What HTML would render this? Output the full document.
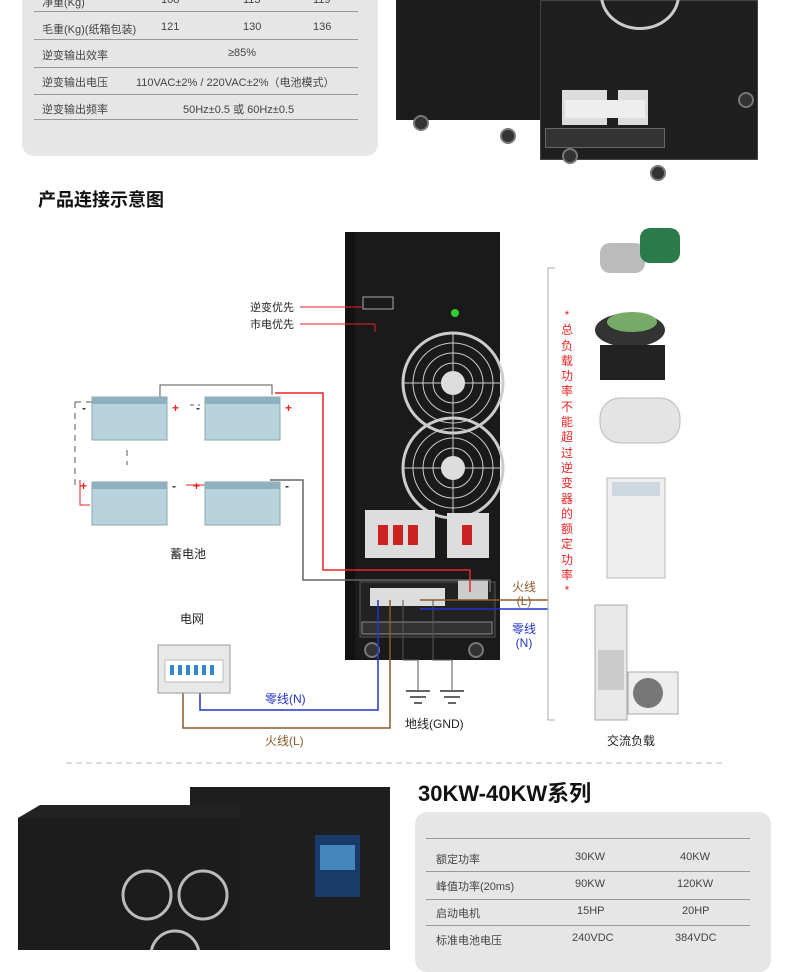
<!DOCTYPE html>
<html><head><meta charset="utf-8"><style>
*{margin:0;padding:0;box-sizing:border-box}
body{width:790px;height:950px;position:relative;background:#fff;overflow:hidden;font-family:"Liberation Sans","Noto Sans CJK SC",sans-serif;color:#333}
.a{position:absolute}
.panel{background:#e6e6e6;border-radius:12px}
.t{font-size:11px;color:#444;white-space:nowrap}
.hl{position:absolute;height:1px;background:#999}
</style></head><body>
<!-- top spec panel -->
<div class="a panel" style="left:22px;top:-20px;width:356px;height:176px"></div>
<div class="hl" style="left:34px;top:11px;width:324px"></div>
<div class="hl" style="left:34px;top:39px;width:324px"></div>
<div class="hl" style="left:34px;top:67px;width:324px"></div>
<div class="hl" style="left:34px;top:94px;width:324px"></div>
<div class="hl" style="left:34px;top:119px;width:324px"></div>
<div class="a t" style="left:42px;top:-6px">净重(Kg)</div><div class="a t" style="left:161px;top:-6px">108</div><div class="a t" style="left:243px;top:-6px">113</div><div class="a t" style="left:313px;top:-6px">119</div>
<div class="a t" style="left:42px;top:21px">毛重(Kg)(纸箱包装)</div><div class="a t" style="left:161px;top:21px">121</div><div class="a t" style="left:243px;top:21px">130</div><div class="a t" style="left:313px;top:21px">136</div>
<div class="a t" style="left:42px;top:47px">逆变输出效率</div><div class="a t" style="left:228px;top:47px">≥85%</div>
<div class="a t" style="left:42px;top:74px">逆变输出电压</div><div class="a t" style="left:136px;top:74px">110VAC±2% / 220VAC±2%（电池模式）</div>
<div class="a t" style="left:42px;top:101px">逆变输出频率</div><div class="a t" style="left:183px;top:101px">50Hz±0.5 或 60Hz±0.5</div>

<!-- top right cabinets -->
<div class="a" style="left:396px;top:0;width:160px;height:120px;background:#1c1c1c"></div>
<div class="a" style="left:540px;top:0;width:218px;height:160px;background:#1f1f1f;border:1px solid #444"></div>
<div class="a" style="left:600px;top:-40px;width:80px;height:70px;border-radius:50%;border:3px solid #ccc"></div>
<div class="a" style="left:562px;top:90px;width:45px;height:35px;background:#ddd"></div>
<div class="a" style="left:618px;top:90px;width:30px;height:35px;background:#ddd"></div>
<div class="a" style="left:565px;top:100px;width:80px;height:18px;background:#eee"></div>
<div class="a" style="left:545px;top:128px;width:120px;height:20px;background:#333;border:1px solid #666"></div>
<div class="a" style="left:413px;top:115px;width:16px;height:16px;border-radius:50%;background:#333;border:2px solid #777"></div>
<div class="a" style="left:500px;top:128px;width:16px;height:16px;border-radius:50%;background:#333;border:2px solid #777"></div>
<div class="a" style="left:562px;top:148px;width:16px;height:16px;border-radius:50%;background:#333;border:2px solid #777"></div>
<div class="a" style="left:650px;top:165px;width:16px;height:16px;border-radius:50%;background:#333;border:2px solid #777"></div>
<div class="a" style="left:738px;top:92px;width:16px;height:16px;border-radius:50%;background:#333;border:2px solid #777"></div>

<div class="a" style="left:38px;top:186px;font-size:18px;font-weight:bold;color:#111">产品连接示意图</div>

<svg class="a" style="left:0;top:0" width="790" height="950">
 <!-- main cabinet -->
 <rect x="345" y="232" width="155" height="428" fill="#1a1a1a"/>
 <rect x="345" y="232" width="10" height="428" fill="#111"/>
 <rect x="363" y="297" width="30" height="12" fill="none" stroke="#aaa" stroke-width="1"/>
 <circle cx="455" cy="313" r="4" fill="#3c3"/>
 <g fill="none" stroke="#ccc">
  <circle cx="453" cy="383" r="50" stroke-width="3"/><circle cx="453" cy="383" r="40"/><circle cx="453" cy="383" r="30"/><circle cx="453" cy="383" r="20"/>
  <circle cx="453" cy="468" r="50" stroke-width="3"/><circle cx="453" cy="468" r="40"/><circle cx="453" cy="468" r="30"/><circle cx="453" cy="468" r="20"/>
  <line x1="403" y1="383" x2="503" y2="383"/><line x1="453" y1="333" x2="453" y2="433"/>
  <line x1="403" y1="468" x2="503" y2="468"/><line x1="453" y1="418" x2="453" y2="518"/>
 </g>
 <circle cx="453" cy="383" r="12" fill="#ddd"/><circle cx="453" cy="468" r="12" fill="#ddd"/>
 <rect x="365" y="510" width="70" height="48" fill="#ddd"/><rect x="447" y="513" width="42" height="45" fill="#ddd"/>
 <rect x="378" y="525" width="10" height="20" fill="#c22"/><rect x="393" y="525" width="10" height="20" fill="#c22"/><rect x="408" y="525" width="10" height="20" fill="#c22"/>
 <rect x="462" y="525" width="10" height="20" fill="#c22"/>
 <rect x="360" y="582" width="135" height="55" fill="#222" stroke="#555"/>
 <rect x="370" y="588" width="75" height="18" fill="#ddd"/><rect x="458" y="580" width="30" height="20" fill="#ccc"/>
 <rect x="362" y="622" width="130" height="12" fill="#333" stroke="#888"/>
 <circle cx="372" cy="650" r="7" fill="#333" stroke="#777" stroke-width="2"/><circle cx="476" cy="650" r="7" fill="#333" stroke="#777" stroke-width="2"/>
 <!-- labels lines -->
 <line x1="300" y1="307" x2="362" y2="307" stroke="#e22"/><line x1="300" y1="324" x2="375" y2="324" stroke="#e22"/><line x1="375" y1="324" x2="375" y2="332" stroke="#e22"/>
 <!-- battery wiring -->
 <g stroke="#555" stroke-dasharray="6,5" fill="none">
  <line x1="75" y1="402" x2="75" y2="485"/><line x1="75" y1="402" x2="95" y2="402"/>
  <polyline points="127,450 127,465"/>
 </g>
 <polyline points="160,403 160,385 272,385 272,395" stroke="#555" fill="none"/>
 <polyline points="80,480 80,505 90,505" stroke="#e22" fill="none"/>
 <polyline points="275,393 323,393 323,570 470,570 470,592" stroke="#e22" fill="none" stroke-width="1.5"/>
 <polyline points="270,480 303,480 303,580 490,580 490,592" stroke="#666" fill="none" stroke-width="1.5"/>
 <line x1="186" y1="485" x2="205" y2="485" stroke="#e22"/>
 <line x1="190" y1="405" x2="200" y2="405" stroke="#555" stroke-dasharray="4,4"/>
 <!-- batteries -->
 <g fill="#b9d3de" stroke="#8aa">
  <rect x="92" y="397" width="75" height="43"/><rect x="205" y="397" width="75" height="43"/>
  <rect x="92" y="482" width="75" height="43"/><rect x="205" y="482" width="75" height="43"/>
 </g>
 <g fill="#8fb0be"><rect x="92" y="397" width="75" height="7"/><rect x="205" y="397" width="75" height="7"/><rect x="92" y="482" width="75" height="7"/><rect x="205" y="482" width="75" height="7"/></g>
 <g fill="#e22" font-size="12" font-weight="bold"><text x="172" y="412">+</text><text x="285" y="412">+</text><text x="80" y="490">+</text><text x="193" y="490">+</text></g>
 <g fill="#333" font-size="12" font-weight="bold"><text x="82" y="412">-</text><text x="196" y="412">-</text><text x="172" y="490">-</text><text x="285" y="490">-</text></g>
 <!-- grid wiring -->
 <polyline points="183,692 183,728 390,728 390,600" stroke="#8a5a2a" fill="none" stroke-width="1.5"/>
 <polyline points="200,692 200,710 378,710 378,600" stroke="#2233cc" fill="none" stroke-width="1.5"/>
 <rect x="158" y="645" width="72" height="48" fill="#e8e8e8" stroke="#999"/>
 <rect x="165" y="660" width="58" height="22" fill="#fff" stroke="#bbb"/>
 <g fill="#38c"><rect x="170" y="665" width="4" height="10"/><rect x="178" y="665" width="4" height="10"/><rect x="186" y="665" width="4" height="10"/><rect x="194" y="665" width="4" height="10"/><rect x="202" y="665" width="4" height="10"/><rect x="210" y="665" width="4" height="10"/></g>
 <!-- ground -->
 <polyline points="403,600 403,660 418,660 418,690" stroke="#555" fill="none"/>
 <polyline points="433,600 433,660 452,660 452,690" stroke="#555" fill="none"/>
 <g stroke="#333" stroke-width="1.5"><line x1="406" y1="691" x2="430" y2="691"/><line x1="410" y1="697" x2="426" y2="697"/><line x1="414" y1="703" x2="422" y2="703"/>
 <line x1="440" y1="691" x2="464" y2="691"/><line x1="444" y1="697" x2="460" y2="697"/><line x1="448" y1="703" x2="456" y2="703"/></g>
 <!-- output -->
 <line x1="420" y1="600" x2="548" y2="600" stroke="#8a5a2a" stroke-width="1.5"/>
 <line x1="420" y1="609" x2="548" y2="609" stroke="#2233cc" stroke-width="1.5"/>
 <polyline points="555,268 548,268 548,720 555,720" stroke="#aaa" fill="none"/>
 <!-- appliances -->
 <rect x="600" y="243" width="45" height="30" rx="10" fill="#bbb"/><rect x="640" y="228" width="40" height="35" rx="10" fill="#2a7a4a"/>
 <ellipse cx="630" cy="330" rx="35" ry="17" fill="#333"/><ellipse cx="632" cy="322" rx="25" ry="10" fill="#7a6"/><rect x="600" y="345" width="65" height="35" fill="#222"/>
 <rect x="600" y="398" width="80" height="45" rx="20" fill="#e4e4e4" stroke="#bbb"/>
 <rect x="607" y="478" width="58" height="100" fill="#eee" stroke="#bbb"/><rect x="612" y="482" width="48" height="14" fill="#cfd8e0"/>
 <rect x="595" y="605" width="32" height="115" fill="#e8e8e8" stroke="#aaa"/><rect x="598" y="650" width="26" height="40" fill="#ccc"/>
 <rect x="628" y="672" width="50" height="42" fill="#eee" stroke="#aaa"/><circle cx="648" cy="693" r="15" fill="#777"/>
 <line x1="66" y1="763" x2="722" y2="763" stroke="#bbb" stroke-dasharray="6,4"/>
 <!-- bottom cabinets -->
 <rect x="190" y="787" width="200" height="170" fill="#1e1e1e"/>
 <rect x="315" y="835" width="45" height="62" fill="#1a3a6a"/><rect x="320" y="845" width="35" height="25" fill="#48b"/>
 <polygon points="18,818 40,805 240,805 240,950 18,950" fill="#222"/>
 <rect x="18" y="818" width="222" height="132" fill="#1c1c1c"/>
 <circle cx="147" cy="895" r="24" fill="none" stroke="#bbb" stroke-width="3"/><circle cx="203" cy="895" r="24" fill="none" stroke="#bbb" stroke-width="3"/><circle cx="175" cy="955" r="24" fill="none" stroke="#bbb" stroke-width="3"/>
</svg>

<div class="a t" style="left:250px;top:299px;color:#222">逆变优先</div>
<div class="a t" style="left:250px;top:316px;color:#222">市电优先</div>
<div class="a t" style="left:170px;top:545px;color:#222;font-size:12px">蓄电池</div>
<div class="a t" style="left:180px;top:610px;color:#222;font-size:12px">电网</div>
<div class="a t" style="left:265px;top:690px;color:#2233cc;font-size:12px">零线(N)</div>
<div class="a t" style="left:265px;top:732px;color:#8a5a2a;font-size:12px">火线(L)</div>
<div class="a t" style="left:405px;top:715px;color:#222;font-size:12px">地线(GND)</div>
<div class="a t" style="left:512px;top:580px;color:#8a5a2a;font-size:12px;text-align:center;line-height:14px">火线<br>(L)</div>
<div class="a t" style="left:512px;top:622px;color:#2233cc;font-size:12px;text-align:center;line-height:14px">零线<br>(N)</div>
<div class="a" style="left:561px;top:308px;width:12px;font-size:12px;line-height:15.3px;color:#e22;text-align:center">*总负载功率不能超过逆变器的额定功率*</div>
<div class="a t" style="left:607px;top:732px;color:#222;font-size:12px">交流负载</div>

<div class="a" style="left:418px;top:776px;font-size:22px;font-weight:bold;color:#111">30KW-40KW系列</div>
<div class="a panel" style="left:415px;top:812px;width:356px;height:160px"></div>
<div class="hl" style="left:426px;top:838px;width:324px"></div>
<div class="hl" style="left:426px;top:871px;width:324px"></div>
<div class="hl" style="left:426px;top:899px;width:324px"></div>
<div class="hl" style="left:426px;top:925px;width:324px"></div>
<div class="a t" style="left:436px;top:851px">额定功率</div><div class="a t" style="left:575px;top:851px">30KW</div><div class="a t" style="left:680px;top:851px">40KW</div>
<div class="a t" style="left:436px;top:878px">峰值功率(20ms)</div><div class="a t" style="left:575px;top:878px">90KW</div><div class="a t" style="left:677px;top:878px">120KW</div>
<div class="a t" style="left:436px;top:905px">启动电机</div><div class="a t" style="left:577px;top:905px">15HP</div><div class="a t" style="left:682px;top:905px">20HP</div>
<div class="a t" style="left:436px;top:932px">标准电池电压</div><div class="a t" style="left:572px;top:932px">240VDC</div><div class="a t" style="left:675px;top:932px">384VDC</div>
</body></html>
